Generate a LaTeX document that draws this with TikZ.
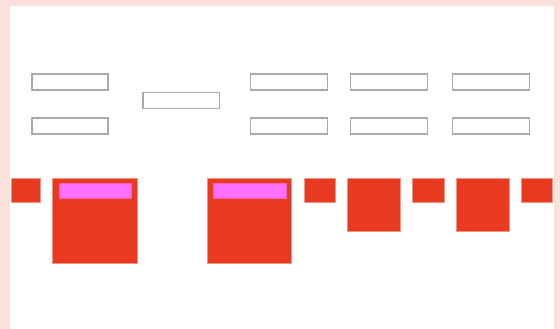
\documentclass[tikz,border=0pt]{standalone}
\usepackage{xcolor}
\definecolor{pagepink}{RGB}{252,224,220}
\definecolor{boxgray}{RGB}{170,170,170}
\definecolor{blockred}{RGB}{232,58,32}
\definecolor{barpink}{RGB}{255,112,255}
\usepackage{tikz}
\usetikzlibrary{positioning}

\tikzset{
  slot/.style={draw=boxgray, line width=1.2pt, fill=white},
  block/.style={fill=blockred, draw=blockred!55!white, line width=0.6pt},
  bar/.style={fill=barpink, draw=barpink!70!blockred, line width=0.4pt}
}

\begin{document}
\begin{tikzpicture}[x=1pt, y=-1pt]
  % Page frame
  \useasboundingbox (0,0) rectangle (560,329);
  \fill[pagepink] (0,0) rectangle (560,329);
  \fill[white] (10,6) rectangle (554,329);

  % Upper rows: empty slots
  \draw[slot] (32,74) rectangle (108,90);
  \draw[slot] (32,118) rectangle (108,134);
  \draw[slot] (143,92.5) rectangle (219.5,108.3);
  \draw[slot] (250.5,74) rectangle (327.5,90);
  \draw[slot] (250.5,118) rectangle (327.5,134);
  \draw[slot] (350.5,74) rectangle (427.5,90);
  \draw[slot] (350.5,118) rectangle (427.5,134);
  \draw[slot] (452.5,74) rectangle (529.5,90);
  \draw[slot] (452.5,118) rectangle (529.5,134);

  % Lower row: red blocks
  \draw[block] (11.7,178.7) rectangle (40.7,202.3);
  \draw[block] (52.3,178.7) rectangle (137,263);
  \draw[bar] (58.7,182.7) rectangle (131,198);
  \draw[block] (207,178.7) rectangle (291.7,263);
  \draw[bar] (213.3,182.7) rectangle (285.7,198);
  \draw[block] (304,178.7) rectangle (335.3,202.3);
  \draw[block] (347.7,178.7) rectangle (400.3,231.3);
  \draw[block] (412.7,178.7) rectangle (444.3,202.3);
  \draw[block] (456.3,178.7) rectangle (509.3,231.3);
  \draw[block] (521.3,178.7) rectangle (552.7,202.3);
\end{tikzpicture}
\end{document}
